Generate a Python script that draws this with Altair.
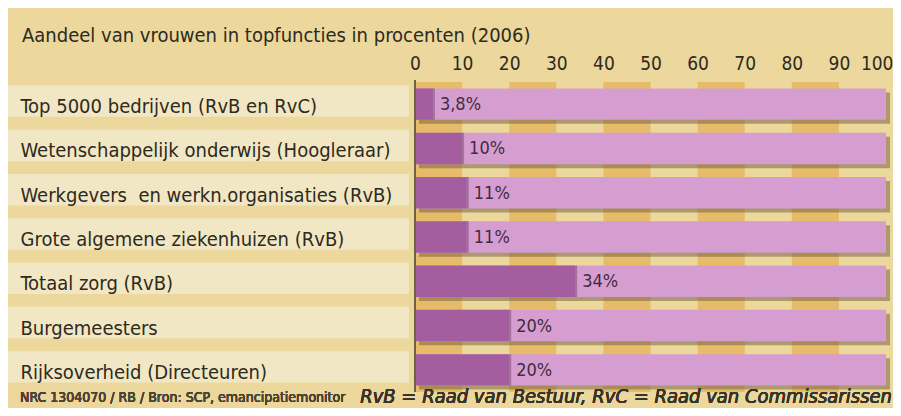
import altair as alt
import pandas as pd

categories = [
    "Top 5000 bedrijven (RvB en RvC)",
    "Wetenschappelijk onderwijs (Hoogleraar)",
    "Werkgevers\u00a0 en werkn.organisaties (RvB)",
    "Grote algemene ziekenhuizen (RvB)",
    "Totaal zorg (RvB)",
    "Burgemeesters",
    "Rijksoverheid (Directeuren)",
]
values = [3.8, 10, 11, 11, 34, 20, 20]
value_labels = ["3,8%", "10%", "11%", "11%", "34%", "20%", "20%"]
tick_values = [0, 10, 20, 30, 40, 50, 60, 70, 80, 90, 100]
stripe_starts = [0, 20, 40, 60, 80]
stripe_ends = [10, 30, 50, 70, 90]

title_text = "Aandeel van vrouwen in topfuncties in procenten (2006)"
source_text = "NRC 1304070 / RB / Bron: SCP, emancipatiemonitor"
legend_text = "RvB = Raad van Bestuur, RvC = Raad van Commissarissen"

FONT = "DejaVu Sans Condensed, sans-serif"
INK = "#2e2a20"

df = pd.DataFrame({"cat": categories, "val": values, "lab": value_labels,
                   "full": [100] * len(categories), "zero": [0] * len(categories)})
stripes = pd.DataFrame({"s": stripe_starts, "e": stripe_ends})

W, H = 471, 310

xscale = alt.Scale(domain=[0, 100], nice=False, zero=True)
yscale = alt.Scale(domain=categories, paddingInner=0.29, paddingOuter=0.145)

xax = alt.Axis(orient="top", values=tick_values, ticks=False, domain=False, grid=False,
               labelFont=FONT, labelFontSize=19, labelColor=INK, labelPadding=9,
               title=None, labelFlush=False,
               labelAlign={"condition": {"test": "datum.value == 100", "value": "right"}, "value": "center"},
               labelOffset={"condition": {"test": "datum.value == 100", "value": 7}, "value": 0})
yax = alt.Axis(orient="left", ticks=False, domain=False, grid=False, labelAlign="left",
               labelPadding=395, labelLimit=420, labelFont=FONT, labelFontSize=20,
               labelColor=INK, title=None, labelBaseline="middle", labelOffset=3)

X = lambda f: alt.X(f, scale=xscale, axis=xax)
Y = alt.Y("cat:N", scale=yscale, sort=categories, axis=yax)

base = alt.Chart(df)

label_bg = base.mark_rect(color="#f2e7c4", yOffset=-3, y2Offset=3).encode(
    y=Y, x=alt.value(-407), x2=alt.value(-6),
)

stripe_layer = alt.Chart(stripes).mark_rect(color="#e4b25a", opacity=0.75).encode(
    x=X("s:Q"), x2="e:Q",
    y=alt.value(0), y2=alt.value(H),
)

shadow = base.mark_rect(color="#6b5b3e", opacity=0.5, xOffset=4, x2Offset=4, yOffset=4, y2Offset=4).encode(
    x=X("zero:Q"), x2="full:Q", y=Y,
)

full_bar = base.mark_rect(color="#d69dd0").encode(
    x=X("zero:Q"), x2="full:Q", y=Y,
)

val_bar = base.mark_rect(color="#a45e9f").encode(
    x=X("zero:Q"), x2="val:Q", y=Y,
)

edge = base.mark_rect(color="#6e4a68", opacity=0.5, x2Offset=2).encode(
    x=X("val:Q"), x2="val:Q", y=Y,
)

val_text = base.mark_text(align="left", baseline="middle", dx=7, dy=1, font=FONT, fontSize=18,
                          color="#3f2d3d").encode(
    x=X("val:Q"), y=Y, text="lab:N",
)

axis_line = base.mark_rule(color="#6f6244", strokeWidth=1.5).encode(
    x=X("zero:Q"), y=alt.value(-2), y2=alt.value(H),
)

foot1 = base.mark_text(
    align="left", baseline="alphabetic", font=FONT, fontSize=14, color="#4a4336"
).encode(x=alt.value(-395), y=alt.value(320), text=alt.value(source_text))

foot2 = base.mark_text(
    align="right", baseline="alphabetic", font=FONT, fontSize=20, fontStyle="italic", color="#3a3428"
).encode(x=alt.value(477), y=alt.value(321), text=alt.value(legend_text))

chart = alt.layer(
    label_bg, stripe_layer, shadow, full_bar, val_bar, edge, val_text, axis_line, foot1, foot2
).properties(
    width=W, height=H,
    autosize=alt.AutoSizeParams(type="none"),
    padding={"left": 407, "top": 74, "right": 7, "bottom": 16},
    background="#ecd89c",
    title=alt.TitleParams(title_text, anchor="start", frame="group", dx=-393, dy=-2,
                          font=FONT, fontSize=20, fontWeight="normal", color=INK, offset=6),
).configure_view(stroke=None)

chart.save("out.html", embed_options={"renderer": "svg", "actions": False})
